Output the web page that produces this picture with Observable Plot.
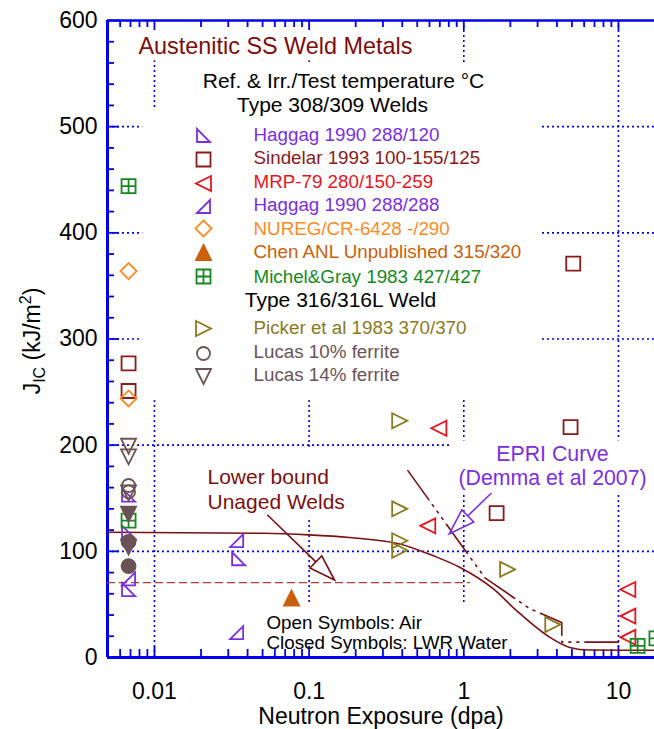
<!DOCTYPE html>
<html><head><meta charset="utf-8">
<script src="https://cdn.jsdelivr.net/npm/d3@7"></script>
<script src="https://cdn.jsdelivr.net/npm/@observablehq/plot@0.6"></script>
<style>html,body{margin:0;padding:0;background:#fff;overflow:hidden}#chart svg{display:block}</style>
</head><body><div id="chart"></div>
<script>
// ---------- DATA ----------
const xTickLabels = [0.01, 0.1, 1, 10];
const yTickLabels = [0, 100, 200, 300, 400, 500, 600];
const xDomain = [0.00497, 17.1];
const yDomain = [0, 600];

// [dpa, JIc]
const haggag120 = [[0.0068,153],[0.0068,118],[0.0068,64],[0.035,93]];
const sindelar = [[0.0068,277],[0.0068,251],[5.1,371],[4.9,217],[1.63,136]];
const mrp79 = [[0.69,216],[0.585,124],[11.5,64],[11.5,39],[11.5,19]];
const haggag288 = [[0.0068,74],[0.034,110],[0.034,23.5]];
const nureg = [[0.0068,364],[0.0068,244]];
const chen = [[0.077,56]];
const michelGray = [[0.0068,444],[0.0068,129],[13.3,11],[17.6,18]];
const picker = [[0.385,223],[0.385,140],[0.385,110],[0.385,101],[1.92,83],[3.76,31]];
const lucas10Air = [[0.0068,162],[0.0068,156]];
const lucas10Water = [[0.0068,109],[0.0068,86]];
const lucas14Air = [[0.0068,199],[0.0068,189],[0.0068,155]];
const lucas14Water = [[0.0068,135],[0.0068,104]];

const lowerBoundCurve = [[0.00497,118],[0.05,117],[0.1,115.5],[0.183,113],[0.386,107],[0.63,96],[0.94,85],[1.54,65],[2.2,44],[3.6,19],[4.84,9.5],[6.5,7],[17.1,6.8]];
const epriCurve = [[0.435,176],[1.37,75],[2.67,46],[4.3,33],[4.3,14.5],[10,14.5]];
const unagedLowerBound = [[0.00497,70.5],[1.09,70.5]];

const legendLabels = ["Haggag 1990 288/120","Sindelar 1993 100-155/125","MRP-79 280/150-259","Haggag 1990 288/288","NUREG/CR-6428 -/290","Chen ANL Unpublished 315/320","Michel&Gray 1983 427/427","Picker et al 1983 370/370","Lucas 10% ferrite","Lucas 14% ferrite"];
const titleText = "Austenitic SS Weld Metals";
const headerLines = ["Ref. & Irr./Test temperature °C","Type 308/309 Welds","Type 316/316L Weld"];
const lowerBoundLabel = ["Lower bound","Unaged Welds"];
const epriLabel = ["EPRI Curve","(Demma et al 2007)"];
const noteLabel = ["Open Symbols: Air","Closed Symbols: LWR Water"];
const xLabel = "Neutron Exposure (dpa)";

// annotation arrows [from, to]
const lowerBoundArrow = [[0.054,134],[0.147,72.5]];
const epriArrow = [[1.52,154.5],[0.81,115.8]];
// white label boxes (occlude grid) [x1,x2,y1,y2]
const labelBoxes = [[0.00722,0.52,562,598],[0.019,1.47,507.7,558.5],[0.0084,3.19,242,517],[0.837,17.1,155,204],[0.0212,0.183,132,198],[0.0465,2.48,1.5,49]];

// ---------- STYLE ----------
const W = 654, H = 729, mL = 107, mR = 0, mT = 20, mB = 72;
const plotW = W - mL - mR, plotH = H - mT - mB;
const BLUE = "#0000f0";
const C = {purple:"#7b2fe0", darkred:"#8b1a1a", red:"#e8141c", orange:"#ff8a1f", chen:"#cc5f0a", green:"#148a1e", olive:"#8a7a1e", lucas:"#6b5355", title:"#7d0c0c", curve:"#7a1010", dashed:"#a5403a"};

function poly(pts){return {draw(ctx,size){const h=Math.sqrt(size/Math.PI);ctx.moveTo(pts[0][0]*h,pts[0][1]*h);for(let i=1;i<pts.length;i++)ctx.lineTo(pts[i][0]*h,pts[i][1]*h);ctx.closePath();}};}
const SYM = {
  rtA: poly([[-1,-1],[-1,1],[1,1]]),
  rtB: poly([[1,-1],[1,1],[-1,1]]),
  left: poly([[1,-1],[-1,0],[1,1]]),
  right: poly([[-1,-1],[1,0],[-1,1]]),
  up: poly([[0,-1],[1,1],[-1,1]]),
  down: poly([[-1,-1],[1,-1],[0,1]]),
  square: poly([[-1,-1],[1,-1],[1,1],[-1,1]]),
  diamond: poly([[0,-1.15],[1.15,0],[0,1.15],[-1.15,0]]),
  squareCross: {draw(ctx,size){const h=Math.sqrt(size/Math.PI);ctx.moveTo(-h,-h);ctx.lineTo(h,-h);ctx.lineTo(h,h);ctx.lineTo(-h,h);ctx.closePath();ctx.moveTo(-h,0);ctx.lineTo(h,0);ctx.moveTo(0,-h);ctx.lineTo(0,h);}},
  circle: {draw(ctx,size){const h=Math.sqrt(size/Math.PI);ctx.moveTo(h,0);ctx.arc(0,0,h,0,2*Math.PI);ctx.closePath();}}
};

const seriesStyle = [
  {data: haggag120, sym:"rtA", color:C.purple, r:6.5},
  {data: sindelar, sym:"square", color:C.darkred, r:7},
  {data: mrp79, sym:"left", color:C.red, r:7.5},
  {data: haggag288, sym:"rtB", color:C.purple, r:6.5},
  {data: nureg, sym:"diamond", color:C.orange, r:7},
  {data: chen, sym:"up", color:C.chen, r:7.5, filled:true},
  {data: michelGray, sym:"squareCross", color:C.green, r:7},
  {data: picker, sym:"right", color:C.olive, r:7.5},
  {data: lucas10Air, sym:"circle", color:C.lucas, r:6.5},
  {data: lucas14Air, sym:"down", color:C.lucas, r:7.5},
  {data: lucas10Water, sym:"circle", color:C.lucas, r:7, filled:true},
  {data: lucas14Water, sym:"down", color:C.lucas, r:7.5, filled:true}
];
const legendRows = [ // pixel rows: marker y, text baseline
  [135,140],[159,163],[183,187],[206,210],[228,234],[252,257],[276,282],[328,333],[353,357],[376,380]
];

// ticks
const xMinor = [];
for (const d of [0.001,0.01,0.1,1,10]) for (let k=2;k<=9;k++){const v=d*k; if(v>xDomain[0]&&v<xDomain[1]) xMinor.push(v);}
const yMinor = d3.range(0, 601, 20).filter(v => v % 100 !== 0);

const FONT = "'Liberation Sans', Arial, Helvetica, sans-serif";

function arrowMark(arrow, color){
  return (index, scales) => {
    const [a,b] = arrow;
    const x1 = scales.x(a[0]), y1 = scales.y(a[1]), x2 = scales.x(b[0]), y2 = scales.y(b[1]);
    const dx = x2-x1, dy = y2-y1, len = Math.hypot(dx,dy), ux = dx/len, uy = dy/len, nx = -uy, ny = ux;
    const L = 26, Wd = 8.5;
    const bx = x2-ux*L, by = y2-uy*L;
    const g = d3.create("svg:g").attr("fill","none").attr("stroke",color).attr("stroke-width",1.6).attr("stroke-linejoin","miter");
    g.append("path").attr("d",`M${x1},${y1}L${bx},${by}`);
    g.append("path").attr("d",`M${x2},${y2}L${bx+nx*Wd},${by+ny*Wd}L${bx-nx*Wd},${by-ny*Wd}Z`);
    return g.node();
  };
}

function yTitleMark(){
  return () => {
    const t = d3.create("svg:text").attr("transform","translate(40,341) rotate(-90)").attr("text-anchor","middle")
      .attr("font-family",FONT).attr("font-size",23).attr("fill","#000");
    t.append("tspan").text("J");
    t.append("tspan").attr("font-size",16).attr("dy",5).text("IC");
    t.append("tspan").attr("dy",-5).text(" (kJ/m");
    t.append("tspan").attr("font-size",16).attr("dy",-9).text("2");
    t.append("tspan").attr("dy",9).text(")");
    return t.node();
  };
}

const marks = [];
// grid
marks.push(Plot.ruleX(xTickLabels, {x: d=>d, stroke: BLUE, strokeWidth: 1.6, strokeDasharray: "2,3"}));
marks.push(Plot.ruleY([100,200,300,400,500], {y: d=>d, stroke: BLUE, strokeWidth: 1.6, strokeDasharray: "2,3"}));
// occluding label boxes
marks.push(Plot.rect(labelBoxes, {x1: d=>d[0], x2: d=>d[1], y1: d=>d[2], y2: d=>d[3], fill: "white"}));
// frame
marks.push(Plot.ruleY([0], {stroke: BLUE, strokeWidth: 3}));
marks.push(Plot.ruleY([600], {stroke: BLUE, strokeWidth: 2.5}));
marks.push(Plot.ruleX([xDomain[0]], {stroke: BLUE, strokeWidth: 3}));
// ticks (inward)
marks.push(Plot.tickX(xTickLabels, {x: d=>d, stroke: BLUE, strokeWidth: 1.8, insetTop: plotH - 11}));
marks.push(Plot.tickX(xMinor, {x: d=>d, stroke: BLUE, strokeWidth: 1.8, insetTop: plotH - 8}));
marks.push(Plot.tickX(xTickLabels, {x: d=>d, stroke: BLUE, strokeWidth: 1.8, insetBottom: plotH - 10}));
marks.push(Plot.tickX(xMinor, {x: d=>d, stroke: BLUE, strokeWidth: 1.8, insetBottom: plotH - 7}));
marks.push(Plot.tickY(yTickLabels, {y: d=>d, stroke: BLUE, strokeWidth: 1.8, insetRight: plotW - 12}));
marks.push(Plot.tickY(yMinor, {y: d=>d, stroke: BLUE, strokeWidth: 1.8, insetRight: plotW - 7}));
// curves
marks.push(Plot.line(unagedLowerBound, {x: d=>d[0], y: d=>d[1], stroke: C.dashed, strokeWidth: 1.4, strokeDasharray: "7,5"}));
marks.push(Plot.line(lowerBoundCurve, {x: d=>d[0], y: d=>d[1], stroke: C.curve, strokeWidth: 1.6, curve: "monotone-x"}));
marks.push(Plot.line(epriCurve, {x: d=>d[0], y: d=>d[1], stroke: C.curve, strokeWidth: 1.6, strokeDasharray: "36,6,2,6,2,6,2,6"}));
// arrows
marks.push(arrowMark(lowerBoundArrow, C.curve));
marks.push(arrowMark(epriArrow, C.purple));
// points
for (const s of seriesStyle) {
  marks.push(Plot.dot(s.data, {x: d=>d[0], y: d=>d[1], symbol: SYM[s.sym], r: s.r, stroke: s.color, strokeWidth: 1.8, fill: s.filled ? s.color : "none"}));
}
// legend
legendLabels.forEach((lab, i) => {
  const s = seriesStyle[i];
  const [my, ty] = legendRows[i];
  marks.push(Plot.dot([lab], {frameAnchor: "top-left", dx: 203 - mL, dy: my - mT, symbol: SYM[s.sym], r: s.r, stroke: s.color, strokeWidth: 1.8, fill: s.filled ? s.color : "none"}));
  marks.push(Plot.text([lab], {frameAnchor: "top-left", dx: 253 - mL, dy: ty - mT, text: d=>d, textAnchor: "start", lineAnchor: "bottom", fontSize: 18.8, fill: s.color}));
});
// texts
marks.push(Plot.text([titleText], {frameAnchor:"top-left", dx: 138 - mL, dy: 53 - mT, text: d=>d, textAnchor:"start", lineAnchor:"bottom", fontSize: 23.4, fill: C.title}));
marks.push(Plot.text([headerLines[0]], {frameAnchor:"top-left", dx: 343 - mL, dy: 87 - mT, text: d=>d, textAnchor:"middle", lineAnchor:"bottom", fontSize: 21, fill: "#000"}));
marks.push(Plot.text([headerLines[1]], {frameAnchor:"top-left", dx: 332 - mL, dy: 111 - mT, text: d=>d, textAnchor:"middle", lineAnchor:"bottom", fontSize: 21, fill: "#000"}));
marks.push(Plot.text([headerLines[2]], {frameAnchor:"top-left", dx: 340 - mL, dy: 306 - mT, text: d=>d, textAnchor:"middle", lineAnchor:"bottom", fontSize: 21, fill: "#000"}));
lowerBoundLabel.forEach((t,i) => marks.push(Plot.text([t], {frameAnchor:"top-left", dx: 207 - mL, dy: 483 + i*25 - mT, text: d=>d, textAnchor:"start", lineAnchor:"bottom", fontSize: 21, fill: C.curve})));
epriLabel.forEach((t,i) => marks.push(Plot.text([t], {frameAnchor:"top-left", dx: 552 - mL, dy: 460 + i*24 - mT, text: d=>d, textAnchor:"middle", lineAnchor:"bottom", fontSize: 21.3, fill: C.purple})));
noteLabel.forEach((t,i) => marks.push(Plot.text([t], {frameAnchor:"top-left", dx: 266 - mL, dy: 628 + i*20 - mT, text: d=>d, textAnchor:"start", lineAnchor:"bottom", fontSize: 18.8, fill: "#000"})));
// tick labels
marks.push(Plot.text(xTickLabels, {x: d=>d, y: 0, dy: 34, text: d=>String(d), fontSize: 23, fill: "#000", lineAnchor: "middle"}));
marks.push(Plot.text(yTickLabels, {x: xDomain[0], y: d=>d, dx: -10, text: d=>String(d), textAnchor: "end", fontSize: 23, fill: "#000", lineAnchor: "middle"}));
marks.push(Plot.text([xLabel], {frameAnchor:"bottom", dy: 59, dx: 0, text: d=>d, fontSize: 23, fill: "#000", lineAnchor: "middle"}));
marks.push(yTitleMark());

const plot = Plot.plot({
  width: W, height: H,
  marginLeft: mL, marginRight: mR, marginTop: mT, marginBottom: mB,
  x: {type: "log", domain: xDomain, axis: null},
  y: {domain: yDomain, axis: null},
  style: {fontFamily: FONT, background: "white", color: "#000"},
  marks
});
document.getElementById("chart").appendChild(plot);
</script></body></html>
